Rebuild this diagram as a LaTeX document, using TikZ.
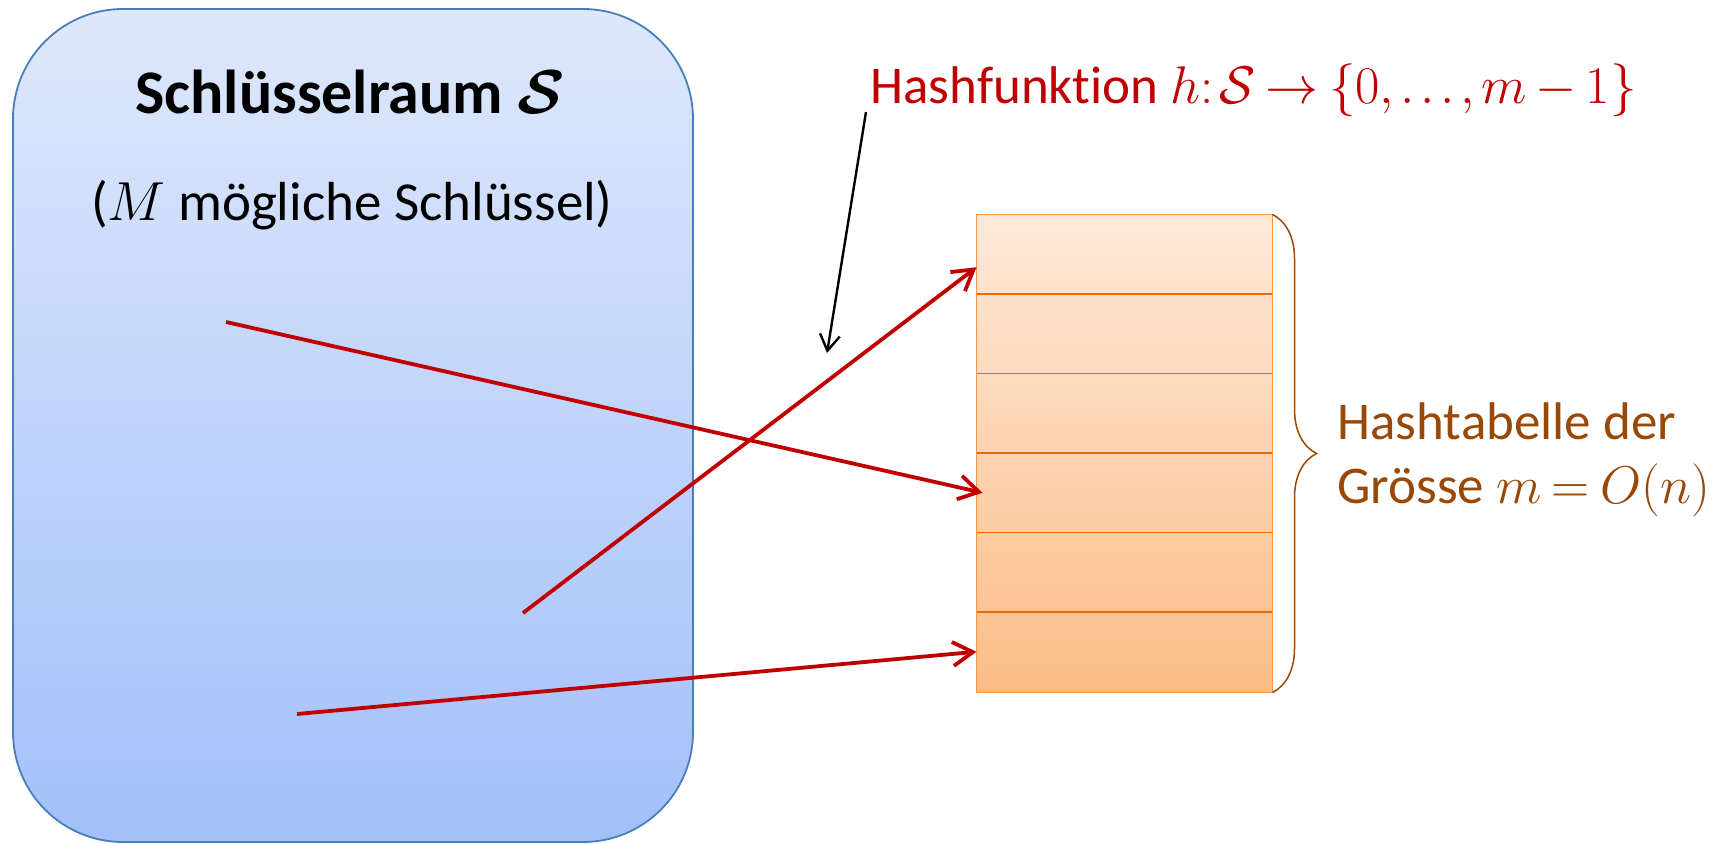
\RequirePackage{fix-cm}
\documentclass[tikz,border=0pt]{standalone}
\usepackage{amsmath}
\usepackage{amssymb}
\usepackage{fontspec}
\setmainfont{Carlito}[Ligatures=NoCommon]
\usepackage{xcolor}
\usetikzlibrary{positioning, arrows.meta, decorations.pathreplacing}

\definecolor{raumoben}{HTML}{DEE8FB}
\definecolor{raumunten}{HTML}{A2C0F9}
\definecolor{raumrand}{HTML}{4A7EBB}
\definecolor{taboben}{HTML}{FEE9D9}
\definecolor{tabunten}{HTML}{FBBD88}
\definecolor{tabrand}{HTML}{F79646}
\definecolor{tablinie}{HTML}{E46C0A}
\definecolor{hashrot}{HTML}{C00000}
\definecolor{braun}{HTML}{984807}

\tikzset{
  abbild/.style={-{Straight Barb[length=10pt,width=12pt]}, line width=1.9pt, hashrot},
  zeiger/.style={-{Straight Barb[length=8pt,width=10pt]}, line width=1.2pt, black},
  fach/.style={rectangle, minimum width=148pt, minimum height=39.75pt, inner sep=0pt, outer sep=0pt},
  gross/.style={font=\fontsize{26.5pt}{32pt}\selectfont, inner sep=0pt},
  eng/.style={execute at begin node={\thinmuskip=2mu\medmuskip=3mu\thickmuskip=3.5mu}},
}

\begin{document}
\begin{tikzpicture}[x=0.5pt, y=-0.5pt]
\useasboundingbox (0,0) rectangle (1735,844);
% Schluesselraum
\node[rectangle, rounded corners=55pt, minimum width=340pt, minimum height=416.5pt,
  top color=raumoben, bottom color=raumunten, draw=raumrand, line width=0.9pt] (raum) at (353,425.5) {};
\node[font=\fontsize{31pt}{37pt}\selectfont\bfseries, anchor=base, inner sep=0pt] (titel) at (350,114)
  {Schlüsselraum $\boldsymbol{\mathcal{S}}$};
\node[gross, font=\fontsize{27.5pt}{33pt}\selectfont, anchor=base] (anzahl) at (352,221) {($M$ mögliche Schlüssel)};
%
% Hashtabelle mit 6 Faechern
\node[fach, minimum height=239pt, top color=taboben, bottom color=tabunten] (tab) at (1124.5,453.5) {};
\node[fach, anchor=north] (fach1) at (tab.north) {};
\foreach \i [count=\j from 1] in {2,...,6}
  \node[fach, below=0pt of fach\j] (fach\i) {};
\foreach \j in {1,...,5}
  \draw[tablinie, line width=0.9pt] (fach\j.south west) -- (fach\j.south east);
\draw[tabrand, line width=0.9pt] (tab.north west) rectangle (tab.south east);
\draw[braun, line width=0.75pt, decorate, decoration={brace, amplitude=22pt}] (tab.north east) -- (tab.south east);
\node[gross, braun, anchor=base west] (tabtext1) at (1337,440) {Hashtabelle der};
\node[gross, braun, eng, anchor=base west] (tabtext2) at (1337,503) {Grösse $m=O(n)$};
%
% Hashfunktion
\node[gross, hashrot, eng, anchor=base west] (hashfkt) at (870,104)
  {Hashfunktion $h{:}\,\mathcal{S}\rightarrow\{0,\ldots,m-1\}$};
\coordinate (z) at (827,353);
\draw[zeiger] ([xshift=-2pt, yshift=-4pt]hashfkt.base west) -- (z);
%
% Schluessel -> Faecher
\coordinate (s1) at (226,322);
\coordinate (s2) at (523,613);
\coordinate (s3) at (297,714);
\draw[abbild] (s1) -- ([xshift=3pt]fach4.west);
\draw[abbild] (s2) -- ([yshift=-6.5pt]fach1.west);
\draw[abbild] (s3) -- (fach6.west);
\end{tikzpicture}
\end{document}
